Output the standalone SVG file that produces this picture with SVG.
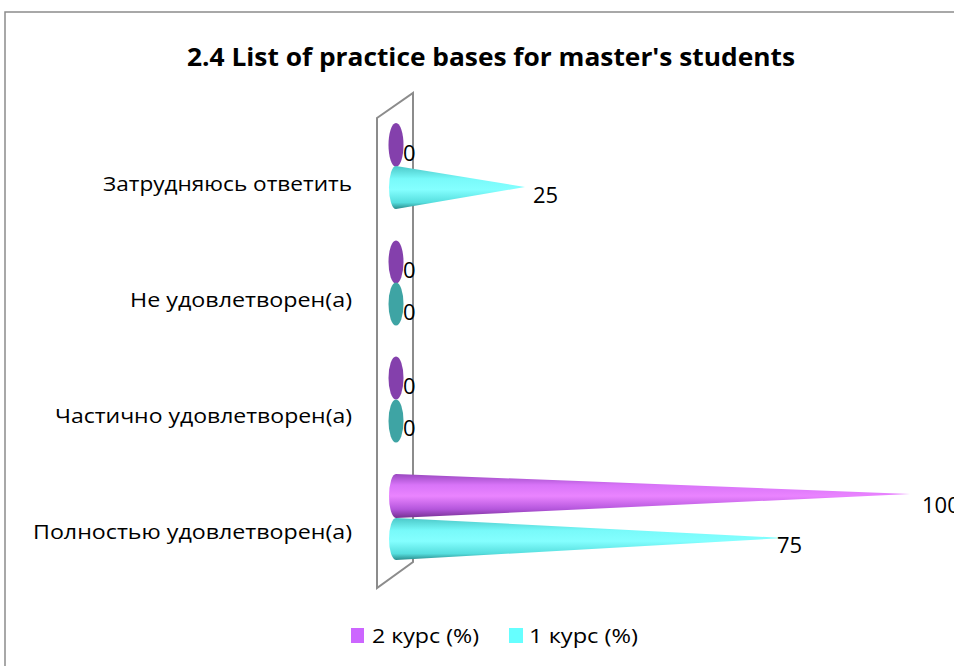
<svg xmlns="http://www.w3.org/2000/svg" width="954" height="666" viewBox="0 0 954 666">
<style>
.lbl{font-family:"Open Sans","Liberation Sans",Arial,sans-serif;font-size:20px;fill:#000}
.num{font-family:"Open Sans","Liberation Sans",Arial,sans-serif;font-size:22px;fill:#000}
.cat{font-family:"Open Sans","Liberation Sans",Arial,sans-serif;font-size:20px;fill:#000}
.title{font-family:"Open Sans","Liberation Sans",Arial,sans-serif;font-size:25px;font-weight:bold;fill:#000}
.wall{fill:none;stroke:#8c8c8c;stroke-width:2}
</style>
<defs>
<linearGradient id="gp" x1="0" y1="0" x2="0" y2="1">
<stop offset="0" stop-color="#9a48c0"/>
<stop offset="0.25" stop-color="#d874f8"/>
<stop offset="0.5" stop-color="#ea84ff"/>
<stop offset="0.8" stop-color="#b456dc"/>
<stop offset="1" stop-color="#743090"/>
</linearGradient>
<linearGradient id="gc" x1="0" y1="0" x2="0" y2="1">
<stop offset="0" stop-color="#4cc8c8"/>
<stop offset="0.3" stop-color="#78fafa"/>
<stop offset="0.55" stop-color="#84ffff"/>
<stop offset="0.85" stop-color="#56dede"/>
<stop offset="1" stop-color="#2a8c8c"/>
</linearGradient>
</defs>
<rect width="954" height="666" fill="#fff"/>
<path d="M5,666 V12 H954" fill="none" stroke="#8c8c8c" stroke-width="1.5"/>
<text class="title" x="187" y="66" textLength="608" lengthAdjust="spacingAndGlyphs">2.4 List of practice bases for master's students</text>
<g id="wall"><path class="wall" d="M377,118 L413,93 L413,562 L377,588 Z"/></g>
<g id="categories">
<text class="cat" x="103" y="191" textLength="249" lengthAdjust="spacingAndGlyphs">Затрудняюсь ответить</text>
<text class="cat" x="130" y="307" textLength="222" lengthAdjust="spacingAndGlyphs">Не удовлетворен(а)</text>
<text class="cat" x="55" y="423" textLength="297" lengthAdjust="spacingAndGlyphs">Частично удовлетворен(а)</text>
<text class="cat" x="33" y="539" textLength="319" lengthAdjust="spacingAndGlyphs">Полностью удовлетворен(а)</text>
</g>
<g id="series">
<g id="c1-p"><ellipse cx="396" cy="145" rx="7.5" ry="22" fill="#8440ac"/><text class="num" x="403" y="161">0</text></g>
<g id="c1-c"><path d="M525,187 L396,166 A7,21.5 0 0 0 396,209 Z" fill="url(#gc)"/><text class="num" x="533" y="203">25</text></g>
<g id="c2-p"><ellipse cx="396" cy="262" rx="7.5" ry="21.5" fill="#8440ac"/><text class="num" x="403" y="278">0</text></g>
<g id="c2-c"><ellipse cx="396" cy="304" rx="7.5" ry="21.5" fill="#3ea4a4"/><text class="num" x="403" y="320">0</text></g>
<g id="c3-p"><ellipse cx="396" cy="378" rx="7.5" ry="21.5" fill="#8440ac"/><text class="num" x="403" y="394">0</text></g>
<g id="c3-c"><ellipse cx="396" cy="421" rx="7.5" ry="21.5" fill="#3ea4a4"/><text class="num" x="403" y="436">0</text></g>
<g id="c4-p"><path d="M910,494 L396,474 A7,22 0 0 0 396,518 Z" fill="url(#gp)"/><text class="num" x="922" y="513">100</text></g>
<g id="c4-c"><path d="M785,538 L396,518 A7,21 0 0 0 396,560 Z" fill="url(#gc)"/><text class="num" x="777" y="553">75</text></g>
</g>
<g id="legend">
<rect x="351" y="628" width="13" height="15" fill="#cc66ff"/>
<text class="lbl" x="372" y="643" textLength="107" lengthAdjust="spacingAndGlyphs">2 курс (%)</text>
<rect x="509" y="628" width="14" height="15" fill="#66ffff"/>
<text class="lbl" x="529" y="643" textLength="109" lengthAdjust="spacingAndGlyphs">1 курс (%)</text>
</g>
</svg>
